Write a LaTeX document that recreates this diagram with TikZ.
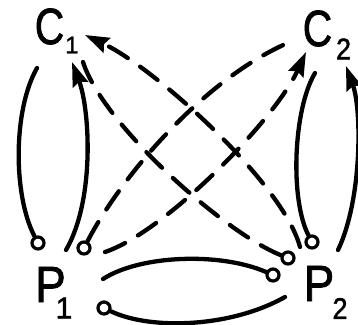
\documentclass[tikz,border=0pt]{standalone}
\usepackage{fontspec}
\setmainfont{Liberation Sans}
\newfontfamily\lblfont{Liberation Sans}[FakeBold=1.6]
\usetikzlibrary{arrows.meta}
\begin{document}
\begin{tikzpicture}[x=1pt,y=-1pt,
  conn/.style={line width=4.3pt, line cap=round},
  dconn/.style={conn, dash pattern=on 22pt off 15pt},
  tip/.style={-{Stealth[length=24pt,width=16pt,inset=3pt]}},
  port/.style={circle, draw, fill=white, line width=3.2pt, minimum size=12pt, inner sep=0pt},
  big/.style={font=\lblfont\fontsize{51}{51}\selectfont, inner sep=0pt},
  small/.style={font=\lblfont\fontsize{30}{30}\selectfont, inner sep=0pt}]
\useasboundingbox (0,0) rectangle (358,324);
% labels
\node[big, xscale=0.8] (C1) at (49.5,26.5) {C};
\node[small, font=\lblfont\fontsize{24}{24}\selectfont] (C1s) at (72,45) {1};
\node[big, xscale=0.8] (C2) at (317.5,28.5) {C};
\node[small, xscale=0.9] (C2s) at (343.5,49) {2};
\node[big, xscale=0.9] (P1) at (50.5,284.5) {P};
\node[small] (P1s) at (64,308) {1};
\node[big, xscale=0.9] (P2) at (319,283.5) {P};
\node[small, xscale=0.9] (P2s) at (340,308.5) {2};
% ports
\node[port] (a1) at (38,243) {};
\node[port] (a2) at (84,248) {};
\node[port] (a3) at (104,308) {};
\node[port] (b1) at (312,242) {};
\node[port] (b2) at (288,258) {};
\node[port] (b3) at (273,275) {};
% free ends
\coordinate (e1) at (37,68);
\coordinate (e2) at (66,250);
\coordinate (e2t) at (72,62);
\coordinate (e3) at (315,73);
\coordinate (e4) at (338,250);
\coordinate (e4t) at (346,66);
\coordinate (g1) at (103,279);
\coordinate (h2) at (285,297);
\coordinate (A2) at (290,42);
\coordinate (B1) at (105,252);
\coordinate (B2) at (306,52);
\coordinate (Cc1) at (83,62);
\coordinate (D1) at (300,247);
\coordinate (D2) at (85,35);
% solid connectors
\draw[conn] (a1) .. controls (13,195) and (13,110) .. (e1);
\draw[conn,tip] (e2) .. controls (95,200) and (90,110) .. (e2t);
\draw[conn] (b1) .. controls (290,200) and (293,110) .. (e3);
\draw[conn,tip] (e4) .. controls (362,200) and (362,110) .. (e4t);
\draw[conn] (g1) .. controls (140,255) and (220,252) .. (b3);
\draw[conn] (a3) .. controls (150,330) and (230,328) .. (h2);
% dashed connectors
\draw[dconn] (a2) .. controls (122,175) and (205,78) .. (A2);
\draw[dconn,tip] (B1) .. controls (165,232) and (275,120) .. (B2);
\draw[dconn] (Cc1) .. controls (103,125) and (225,233) .. (b2);
\draw[dconn,tip] (D1) .. controls (283,183) and (155,68) .. (D2);
\end{tikzpicture}
\end{document}
